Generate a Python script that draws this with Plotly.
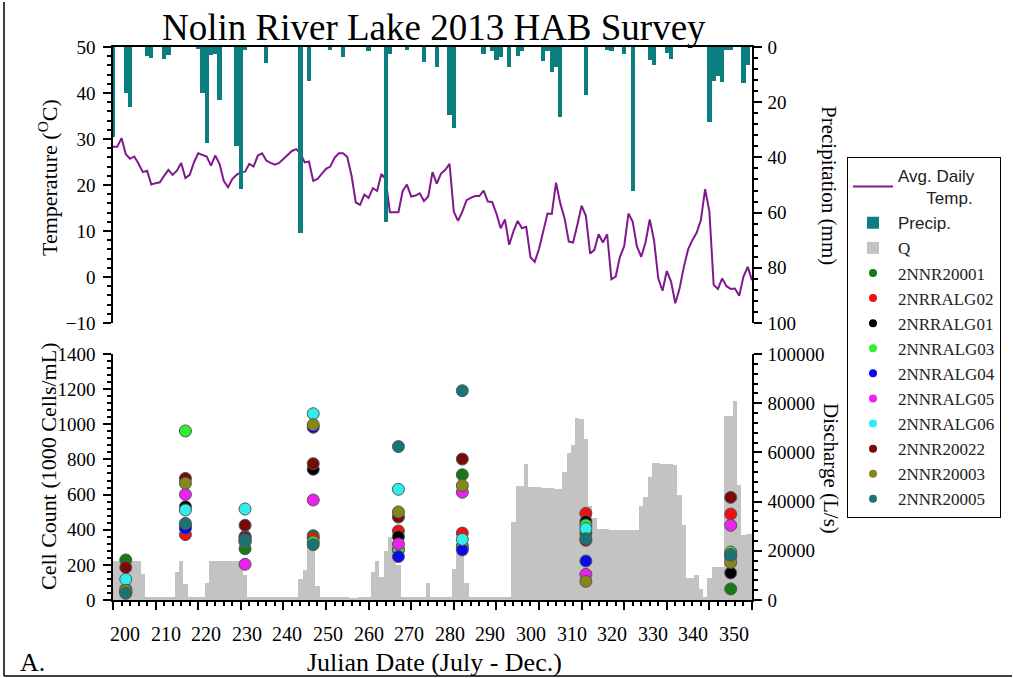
import plotly.graph_objects as go

# ---------------- data ----------------
days = list(range(200, 351))

temp_c = [28.3, 28.3, 30.2, 26.7, 25.7, 26.2, 24.6, 22.8, 23.1, 20.1,
          20.4, 20.6, 22.0, 23.3, 22.2, 23.1, 24.8, 21.5, 22.2, 24.9,
          26.9, 26.5, 26.2, 24.2, 26.4, 24.6, 20.9, 19.5, 21.3, 22.2,
          22.8, 22.9, 24.6, 24.0, 26.4, 26.9, 25.3, 24.8, 24.4, 24.8,
          25.7, 26.6, 27.4, 27.8, 26.9, 24.9, 25.1, 20.9, 21.3, 22.4,
          23.5, 24.0, 25.9, 26.9, 26.9, 26.1, 22.0, 16.2, 15.7, 17.9,
          17.2, 19.3, 18.7, 22.4, 21.3, 14.1, 14.1, 14.1, 18.7, 20.1,
          17.5, 17.7, 18.2, 16.5, 17.5, 22.8, 20.3, 22.5, 23.3, 24.6,
          14.2, 12.2, 14.2, 16.7, 17.2, 17.6, 17.6, 18.8, 16.4, 16.3,
          13.8, 10.6, 12.5, 7.0, 9.9, 12.2, 10.6, 10.9, 4.3, 3.3,
          6.1, 9.9, 13.8, 13.7, 20.5, 16.0, 12.8, 7.7, 7.5, 11.3,
          15.5, 13.3, 5.1, 5.9, 9.3, 7.5, 9.3, -0.5, 0.1, 4.4,
          6.7, 13.8, 12.0, 6.6, 4.4, 7.5, 12.5, 8.0, -0.3, -3.0,
          1.3, -1.0, -5.7, -2.5, 2.2, 6.0, 8.0, 9.6, 12.4, 19.1,
          14.2, -1.7, -2.6, -0.3, -2.0, -2.6, -2.5, -4.1, 0.1, 2.2,
          -0.7]

discharge_ls = [15700, 15700, 15700, 15700, 15700, 15700, 15700, 10500, 1300, 1300,
                1300, 1300, 1300, 1300, 1300, 11500, 15700, 6400, 1300, 1300,
                1300, 1300, 6800, 15700, 15700, 15700, 15700, 15700, 15700, 15700,
                15700, 10300, 1200, 1200, 1200, 1200, 1200, 1200, 1200, 1200,
                1200, 1200, 1200, 1200, 8500, 12200, 24400, 24400, 5800, 1200,
                1200, 1200, 1200, 1200, 1200, 1200, 700, 700, 1200, 1200,
                1200, 11400, 15700, 9500, 20000, 25700, 19500, 14200, 1300, 1300,
                1300, 1300, 1300, 1300, 7000, 1300, 1300, 1300, 1300, 1300,
                12500, 19000, 27000, 6800, 1300, 1300, 1300, 1300, 1300, 1300,
                1300, 1300, 1300, 1300, 31800, 46500, 46500, 55300, 46000, 45900,
                45800, 45700, 45500, 45400, 45200, 45000, 52200, 59600, 62900, 73800,
                73500, 65300, 38300, 33200, 28900, 28900, 28900, 28600, 28600, 28500,
                28500, 28500, 28400, 28400, 38200, 42000, 50100, 55600, 55500, 55400,
                55200, 55100, 55000, 42700, 30500, 9070, 9070, 10200, 4300, 1350,
                9070, 13550, 13550, 13550, 74800, 74800, 80900, 46600, 26400, 27000,
                27000]

precip_days = [200, 203, 204, 208, 209, 212, 213, 220, 221, 222,
               223, 224, 225, 229, 230, 231, 236, 244, 246, 251,
               254, 260, 264, 265, 269, 273, 276, 279, 280, 287,
               289, 290, 291, 293, 295, 296, 301, 302, 303, 304,
               305, 311, 316, 317, 320, 322, 326, 327, 330, 331,
               340, 341, 342, 343, 344, 345, 348, 349]
precip_mm = [32.5, 16.8, 21.6, 3.1, 4.0, 4.3, 2.8, 0.6, 16.8, 34.9,
             2.8, 2.6, 19.2, 35.7, 51.6, 1.0, 5.8, 67.4, 12.2, 1.0,
             3.7, 1.6, 63.3, 2.5, 1.2, 5.3, 7.4, 24.6, 29.3, 2.5,
             1.3, 4.6, 3.7, 7.4, 3.4, 1.3, 5.2, 1.5, 9.2, 7.1,
             25.5, 17.4, 1.0, 1.3, 2.5, 52.1, 4.7, 6.5, 2.3, 4.3,
             27.3, 12.4, 10.4, 12.8, 1.0, 1.0, 13.2, 6.4]

sample_days = [203, 217, 231, 247, 267, 282, 311, 345]
stations = ["2NNR20001", "2NRRALG02", "2NRRALG01", "2NNRALG03", "2NNRALG04",
            "2NNRALG05", "2NNRALG06", "2NNR20022", "2NNR20003", "2NNR20005"]
station_colors = ["#157A15", "#F01010", "#000000", "#30EE30", "#0A0AE6",
                  "#EE22EE", "#30EEEE", "#780A0A", "#86861A", "#1A7474"]
cell_2NNR20001 = [228, 420, 292, 366, 285, 713, 380, 63]
cell_2NRRALG02 = [50, 372, 362, 352, 393, 381, 493, 489]
cell_2NRRALG01 = [45, 531, 355, 744, 360, 307, 446, 154]
cell_2NNRALG03 = [62, 962, 330, 330, 290, 300, 427, 273]
cell_2NNRALG04 = [42, 408, 348, 983, 247, 285, 222, 245]
cell_2NNRALG05 = [45, 601, 203, 569, 319, 613, 146, 425]
cell_2NNRALG06 = [118, 512, 518, 1060, 630, 345, 406, 260]
cell_2NNR20022 = [185, 692, 425, 776, 472, 802, 340, 584]
cell_2NNR20003 = [55, 664, 340, 998, 501, 651, 106, 214]
cell_2NNR20005 = [38, 436, 336, 315, 873, 1191, 349, 255]
cell_counts = [cell_2NNR20001, cell_2NRRALG02, cell_2NRRALG01, cell_2NNRALG03,
               cell_2NNRALG04, cell_2NNRALG05, cell_2NNRALG06, cell_2NNR20022,
               cell_2NNR20003, cell_2NNR20005]

x_tick_values = [200, 210, 220, 230, 240, 250, 260, 270, 280, 290, 300, 310, 320, 330, 340, 350]
x_tick_labels = ["200", "210", "220", "230", "240", "250", "260", "270",
                 "280", "290", "300", "310", "320", "330", "340", "350"]

# ---------------- layout helpers (pixel -> paper) ----------------
W, H = 1013, 678
L, R, T, B = 113, 752, 47, 600
def px(x):
    return (x - L) / (R - L)
def py(y):
    return (B - y) / (B - T)

SERIF = "Liberation Serif"
SANS = "Liberation Sans"
tickfont = dict(family=SERIF, size=19, color="black")

fig = go.Figure()

fig.add_trace(go.Scatter(x=days, y=temp_c, xaxis="x", yaxis="y", mode="lines",
                         line=dict(color="#80188E", width=2),
                         name=f"<span style='font-family:{SANS}'>Avg. Daily</span><br><span style='font-family:{SANS}'>\u00a0\u00a0\u00a0\u00a0\u00a0\u00a0Temp.</span>",
                         legendrank=1))
fig.add_trace(go.Bar(x=precip_days, y=precip_mm, xaxis="x", yaxis="y2", width=1,
                     marker=dict(color="#0B7F7F", line=dict(width=0)),
                     name=f"<span style='font-family:{SANS}'>Precip.</span>", legendrank=2))
fig.add_trace(go.Bar(x=days, y=discharge_ls, xaxis="x2", yaxis="y3", width=1,
                     marker=dict(color="#C3C3C3", line=dict(width=0)),
                     name="Q", legendrank=3))
for name, col, vals in zip(stations, station_colors, cell_counts):
    fig.add_trace(go.Scatter(x=sample_days, y=vals, xaxis="x2", yaxis="y4", mode="markers",
                             marker=dict(size=12, color=col, line=dict(width=1, color="#555555")),
                             name=name, showlegend=False))
for i, (name, col) in enumerate(zip(stations, station_colors)):
    fig.add_trace(go.Scatter(x=[None], y=[None], xaxis="x2", yaxis="y4", mode="markers",
                             marker=dict(size=8, color=col), name=name, legendrank=4 + i))

top_dom = [py(323), 1.0]
bot_dom = [0.0, py(354)]

common = dict(showgrid=False, zeroline=False, showline=True, linecolor="black",
              linewidth=1.5, tickfont=tickfont, ticks="outside", ticklen=8,
              tickcolor="black", tickwidth=1.5)

fig.update_layout(
    width=W, height=H, autosize=False,
    margin=dict(l=L, r=W - R, t=T, b=H - B, pad=0),
    paper_bgcolor="white", plot_bgcolor="white",
    bargap=0,
    xaxis=dict(domain=[0, 1], anchor="y", range=[200, 350], side="top",
               showline=True, linecolor="black", linewidth=1.5, ticks="",
               showticklabels=False, showgrid=False, zeroline=False),
    yaxis=dict(domain=top_dom, anchor="x", range=[-10, 50], tick0=0, dtick=10,
               minor=dict(dtick=2, ticks="outside", ticklen=4, tickcolor="black"),
               ticklabelstandoff=4, **common),
    yaxis2=dict(overlaying="y", anchor="x", side="right", range=[100, 0], tick0=0, dtick=20,
                minor=dict(dtick=4, ticks="outside", ticklen=4, tickcolor="black"),
                ticklabelstandoff=2, **common),
    xaxis2=dict(domain=[0, 1], anchor="y3", range=[200, 350], tickvals=x_tick_values,
                showticklabels=False,
                minor=dict(dtick=2, ticks="outside", ticklen=4, tickcolor="black"),
                **common),
    yaxis3=dict(domain=bot_dom, anchor="x2", side="right", range=[0, 100000], tick0=0,
                dtick=20000, tickformat="d",
                minor=dict(dtick=4000, ticks="outside", ticklen=4, tickcolor="black"),
                ticklabelstandoff=2, **common),
    yaxis4=dict(overlaying="y3", anchor="x2", side="left", range=[0, 1400], tick0=0,
                dtick=200, tickformat="d",
                minor=dict(dtick=40, ticks="outside", ticklen=4, tickcolor="black"),
                ticklabelstandoff=4, **common),
    legend=dict(x=px(847), y=py(157), xanchor="left", yanchor="top",
                bordercolor="black", borderwidth=1, bgcolor="white",
                font=dict(family=SERIF, size=17, color="#222222"),
                tracegroupgap=0, itemwidth=40),
    font=dict(family=SERIF, color="black"),
)

ann = dict(xref="paper", yref="paper", showarrow=False, font=dict(family=SERIF, size=22, color="black"))

# x tick labels, placed as in the reference (slightly compressed relative to the ticks)
lab_first, lab_last = 125.0, 734.0
for v, t in zip(x_tick_values, x_tick_labels):
    cx = lab_first + (v - 200) * (lab_last - lab_first) / 150.0
    fig.add_annotation(text=t, x=px(cx), y=py(634), xanchor="center", yanchor="middle",
                       **{**ann, "font": dict(family=SERIF, size=20, color="black")})

fig.add_annotation(text="Nolin River Lake 2013 HAB Survey", x=px(434), y=py(27),
                   xanchor="center", yanchor="middle",
                   **{**ann, "font": dict(family=SERIF, size=37, color="black")})
fig.add_annotation(text="Temperature (<sup>O</sup>C)", x=px(48), y=py(178), textangle=-90,
                   xanchor="center", yanchor="middle", **ann)
fig.add_annotation(text="Precipitation (mm)", x=px(829), y=py(185), textangle=90,
                   xanchor="center", yanchor="middle",
                   **{**ann, "font": dict(family=SERIF, size=21, color="black")})
fig.add_annotation(text="Cell Count (1000 Cells/mL)", x=px(48), y=py(466), textangle=-90,
                   xanchor="center", yanchor="middle", **ann)
fig.add_annotation(text="Discharge (L/s)", x=px(831), y=py(468), textangle=90,
                   xanchor="center", yanchor="middle",
                   **{**ann, "font": dict(family=SERIF, size=21, color="black")})
fig.add_annotation(text="Julian Date (July - Dec.)", x=px(434), y=py(662),
                   xanchor="center", yanchor="middle",
                   **{**ann, "font": dict(family=SERIF, size=26, color="black")})
fig.add_annotation(text="A.", x=px(18), y=py(662), xanchor="left", yanchor="middle",
                   **{**ann, "font": dict(family=SERIF, size=26, color="black")})

# outer frame lines (left and bottom)
fig.add_shape(type="line", xref="paper", yref="paper", x0=px(4), x1=px(4), y0=py(2), y1=py(676),
              line=dict(color="black", width=1.5))
fig.add_shape(type="line", xref="paper", yref="paper", x0=px(4), x1=px(1012), y0=py(676), y1=py(676),
              line=dict(color="black", width=1.5))

fig.write_html("out.html")
